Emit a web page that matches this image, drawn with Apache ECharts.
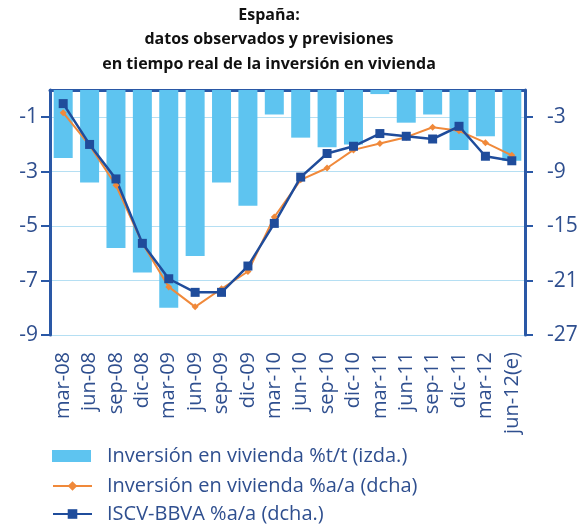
<!DOCTYPE html>
<html><head><meta charset="utf-8">
<script src="https://cdn.jsdelivr.net/npm/echarts@6/dist/echarts.min.js"></script>
<style>html,body{margin:0;padding:0;background:#fff}#c{width:582px;height:525px}</style>
</head><body><div id="c"></div>
<script>
const categories = ['mar-08','jun-08','sep-08','dic-08','mar-09','jun-09','sep-09','dic-09','mar-10','jun-10','sep-10','dic-10','mar-11','jun-11','sep-11','dic-11','mar-12','jun-12(e)'];
const invTT = [-2.5,-3.4,-5.8,-6.7,-8.0,-6.1,-3.4,-4.25,-0.9,-1.75,-2.1,-2.0,-0.15,-1.2,-0.9,-2.2,-1.7,-2.6];
const invAA = [-2.5,-6.1,-10.5,-16.9,-21.7,-23.9,-21.9,-20.0,-14.0,-9.9,-8.6,-6.6,-5.9,-5.2,-4.1,-4.5,-5.8,-7.2];
const iscv = [-1.5,-6.0,-9.8,-16.9,-20.8,-22.3,-22.3,-19.4,-14.7,-9.6,-7.0,-6.2,-4.8,-5.1,-5.4,-4.0,-7.3,-7.8];
const leftTicks = [-9,-7,-5,-3,-1];
const rightTicks = [-27,-21,-15,-9,-3];
const names = ['Inversión en vivienda %t/t (izda.)','Inversión en vivienda %a/a (dcha)','ISCV-BBVA %a/a (dcha.)'];

const axisBlue = '#2a58a6';
const textBlue = '#2f4f8f';
const font = 'Open Sans';
function leg(i, top, pad){
  return {orient:'vertical',left:52,top:top,padding:0,itemWidth:39,itemHeight:12,
    textStyle:{fontFamily:font,fontSize:20,color:textBlue,padding:[0,0,0,pad]},
    data:[i===0?{name:names[i],icon:'rect'}:{name:names[i]}]};
}
const chart = echarts.init(document.getElementById('c'));
chart.setOption({
  animation:false,
  title:{text:'España:\ndatos observados y previsiones\nen tiempo real de la inversión en vivienda',left:264,textAlign:'center',top:-2,
    textStyle:{fontFamily:font,fontWeight:'bold',fontSize:16,color:'#111',lineHeight:24.5}},
  legend:[leg(0,446,11),leg(1,476,10),leg(2,504,10)],
  grid:{left:50,right:57,top:90,bottom:190},
  xAxis:[
    {type:'category',data:categories,position:'top',
     axisLine:{lineStyle:{color:axisBlue,width:3}},
     axisTick:{inside:true,length:6,lineStyle:{color:axisBlue,width:2}},
     axisLabel:{show:false},splitLine:{show:false}},
    {type:'category',data:categories,position:'bottom',
     axisLine:{show:false},axisTick:{show:false},
     axisLabel:{rotate:90,margin:17,fontFamily:font,fontSize:20,color:textBlue,interval:0}}
  ],
  yAxis:[
    {type:'value',min:-9,max:0,position:'left',
     axisLine:{show:true,lineStyle:{color:axisBlue,width:3}},
     axisTick:{show:true,length:9,lineStyle:{color:axisBlue,width:2},customValues:leftTicks},
     axisLabel:{customValues:leftTicks,margin:12,fontFamily:font,fontSize:21,color:textBlue},
     splitLine:{show:true,lineStyle:{color:'#b5dff3',width:1}}},
    {type:'value',min:-27,max:0,position:'right',
     axisLine:{show:true,lineStyle:{color:axisBlue,width:3}},
     axisTick:{show:true,length:8,lineStyle:{color:axisBlue,width:2},customValues:rightTicks},
     axisLabel:{customValues:rightTicks,margin:22,fontFamily:font,fontSize:21,color:textBlue},
     splitLine:{show:false}}
  ],
  series:[
    {name:names[0],type:'bar',data:invTT,xAxisIndex:0,yAxisIndex:0,barWidth:19,
     itemStyle:{color:'#5ec4f0'}},
    {name:names[1],type:'line',data:invAA,xAxisIndex:0,yAxisIndex:1,
     symbol:'diamond',symbolSize:7,lineStyle:{color:'#f0893a',width:2},itemStyle:{color:'#f0893a'}},
    {name:names[2],type:'line',data:iscv,xAxisIndex:0,yAxisIndex:1,
     symbol:'rect',symbolSize:9,lineStyle:{color:'#1f4c9b',width:2.5},itemStyle:{color:'#1f4c9b'}}
  ]
});
</script></body></html>
